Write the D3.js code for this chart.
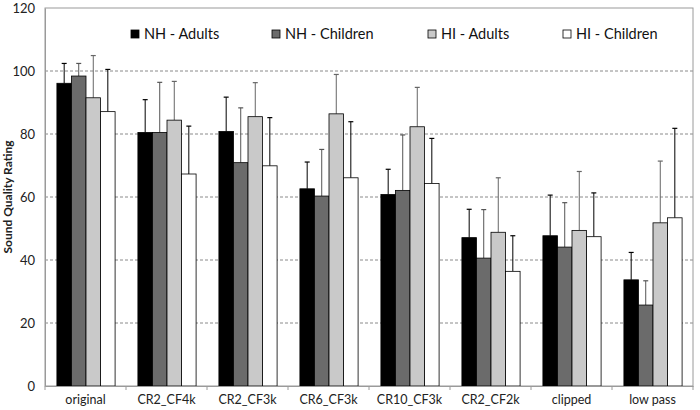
<!DOCTYPE html>
<html>
<head>
  <meta charset='utf-8'>
  <style>
    body { margin: 0; background: #fff; }
    text { font-family: Lato, "Open Sans", sans-serif; }
  </style>
</head>
<body>
  <div id="chart"></div>
  <script src="https://d3js.org/d3.v7.min.js"></script>
  <script type="text/javascript">
    var categories = ["original", "CR2_CF4k", "CR2_CF3k", "CR6_CF3k", "CR10_CF3k", "CR2_CF2k", "clipped", "low pass"];
    var seriesNames = ["NH - Adults", "NH - Children", "HI - Adults", "HI - Children"];

    // mean ratings per series
    var nhAdults   = [96.1, 80.5, 80.8, 62.6, 60.8, 47.1, 47.7, 33.7];
    var nhChildren = [98.4, 80.5, 70.9, 60.3, 62.1, 40.6, 44.1, 25.7];
    var hiAdults   = [91.5, 84.4, 85.5, 86.4, 82.3, 48.8, 49.4, 51.8];
    var hiChildren = [87.1, 67.3, 69.9, 66.1, 64.3, 36.4, 47.4, 53.4];

    // upper end of error bars
    var nhAdultsErr   = [102.4, 90.9, 91.7, 71.1, 68.8, 56.1, 60.6, 42.4];
    var nhChildrenErr = [102.4, 96.4, 88.3, 75.1, 79.7, 56.0, 58.2, 33.4];
    var hiAdultsErr   = [104.9, 96.7, 96.3, 98.9, 94.8, 66.1, 68.1, 71.4];
    var hiChildrenErr = [100.5, 82.5, 85.2, 83.9, 78.6, 47.7, 61.3, 81.8];

    var yTicks = [0, 20, 40, 60, 80, 100, 120];

    var means = [nhAdults, nhChildren, hiAdults, hiChildren];
    var errs = [nhAdultsErr, nhChildrenErr, hiAdultsErr, hiChildrenErr];
    var fills = ["#000000", "#6b6b6b", "#c9c9c9", "#ffffff"];
    var errColors = ["#000000", "#555555", "#666666", "#000000"];

    var width = 700, height = 410;
    var margin = {left: 45, right: 7, top: 8, bottom: 24};

    var svg = d3.select("#chart").append("svg")
        .attr("width", width)
        .attr("height", height);

    var x = d3.scaleBand()
        .domain(categories)
        .range([margin.left, width - margin.right]);

    var xs = d3.scaleBand()
        .domain(d3.range(seriesNames.length))
        .range([1, x.bandwidth()])
        .paddingOuter(0.75);

    var y = d3.scaleLinear()
        .domain([0, 120])
        .range([height - margin.bottom, margin.top]);

    // grid lines
    svg.selectAll(".grid")
        .data(yTicks.filter(function(d) { return d > 0 && d < 120; }))
        .enter().append("line")
        .attr("x1", margin.left).attr("x2", width - margin.right)
        .attr("y1", function(d) { return y(d); })
        .attr("y2", function(d) { return y(d); })
        .style("stroke", "#8a8a8a")
        .style("stroke-width", 1)
        .style("stroke-dasharray", "3,2");

    // plot area border
    svg.append("rect")
        .attr("x", margin.left).attr("y", y(120))
        .attr("width", width - margin.right - margin.left)
        .attr("height", y(0) - y(120))
        .style("fill", "none")
        .style("stroke", "#9a9a9a")
        .style("stroke-width", 1);

    // bars
    var groups = svg.selectAll(".group")
        .data(categories)
        .enter().append("g")
        .attr("transform", function(d) { return "translate(" + x(d) + ",0)"; });

    seriesNames.forEach(function(s, si) {
      groups.append("line")
          .attr("x1", xs(si) + xs.bandwidth() / 2)
          .attr("x2", xs(si) + xs.bandwidth() / 2)
          .attr("y1", function(d, i) { return y(means[si][i]); })
          .attr("y2", function(d, i) { return y(errs[si][i]); })
          .style("stroke", errColors[si])
          .style("stroke-width", 1);
      groups.append("line")
          .attr("x1", xs(si) + xs.bandwidth() / 2 - 2.5)
          .attr("x2", xs(si) + xs.bandwidth() / 2 + 2.5)
          .attr("y1", function(d, i) { return y(errs[si][i]); })
          .attr("y2", function(d, i) { return y(errs[si][i]); })
          .style("stroke", errColors[si])
          .style("stroke-width", 1.2);
      groups.append("rect")
          .attr("x", xs(si))
          .attr("width", xs.bandwidth())
          .attr("y", function(d, i) { return y(means[si][i]); })
          .attr("height", function(d, i) { return y(0) - y(means[si][i]); })
          .style("fill", fills[si])
          .style("stroke", "#000")
          .style("stroke-width", 0.8);
    });

    // axes
    var yAxis = svg.append("g")
        .attr("transform", "translate(" + margin.left + ",0)")
        .call(d3.axisLeft(y).tickValues(yTicks).tickSize(0).tickPadding(10));
    yAxis.select(".domain").style("stroke", "#9a9a9a");
    yAxis.selectAll("text").style("font-size", "13px").style("fill", "#222");

    var xAxis = svg.append("g")
        .attr("transform", "translate(0," + y(0) + ")")
        .call(d3.axisBottom(x).tickSize(0).tickPadding(9));
    xAxis.select(".domain").style("stroke", "#9a9a9a");
    xAxis.selectAll("text").style("font-size", "12.5px").style("fill", "#222");

    // tick marks between categories
    svg.selectAll(".xtick")
        .data(categories.concat([null]))
        .enter().append("line")
        .attr("x1", function(d, i) { return margin.left + i * x.step(); })
        .attr("x2", function(d, i) { return margin.left + i * x.step(); })
        .attr("y1", y(0)).attr("y2", y(0) + 4)
        .style("stroke", "#9a9a9a");

    // y label
    svg.append("text")
        .attr("transform", "translate(12," + (y(60)) + ") rotate(-90)")
        .attr("text-anchor", "middle")
        .style("font-size", "12px")
        .style("font-weight", "bold")
        .style("fill", "#222")
        .text("Sound Quality Rating");

    // legend
    var legendX = [131, 272, 428, 563];
    var legend = svg.selectAll(".legend")
        .data(seriesNames)
        .enter().append("g")
        .attr("transform", function(d, i) { return "translate(" + legendX[i] + ",30)"; });
    legend.append("rect")
        .attr("width", 8).attr("height", 8)
        .style("fill", function(d, i) { return fills[i]; })
        .style("stroke", "#000")
        .style("stroke-width", 0.8);
    legend.append("text")
        .attr("x", 13).attr("y", 9)
        .style("font-size", "14.5px")
        .style("fill", "#111")
        .text(function(d) { return d; });
  </script>
</body>
</html>
